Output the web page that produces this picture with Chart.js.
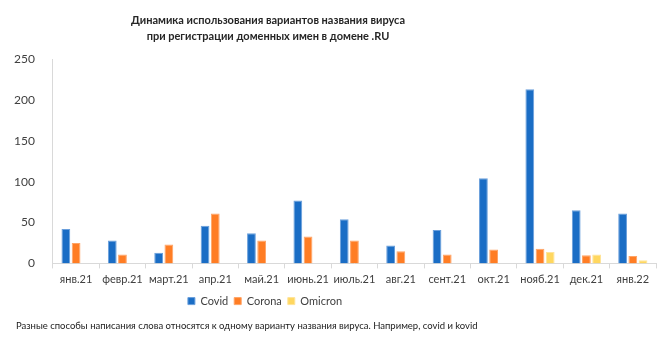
<!DOCTYPE html>
<html lang="ru">
<head>
  <meta charset="UTF-8" />
  <title>Динамика использования вариантов названия вируса</title>
  <script src="https://cdn.jsdelivr.net/npm/chart.js"></script>
  <style>
    body {
      margin: 0;
      padding: 0;
      background: #ffffff;
    }
    .wrap {
      width: 670px;
      height: 338px;
      position: relative;
    }
  </style>
</head>
<body>
  <div class="wrap">
    <canvas id="virusChart" width="670" height="338"></canvas>
  </div>

  <script>
    const months = ["янв.21", "февр.21", "март.21", "апр.21", "май.21", "июнь.21", "июль.21",
                    "авг.21", "сент.21", "окт.21", "нояб.21", "дек.21", "янв.22"];
    const covid   = [42, 28, 13, 46, 37, 77, 54, 22, 41, 104, 213, 65, 61];
    const corona  = [25, 11, 23, 61, 28, 33, 28, 15, 11, 17, 18, 10, 9];
    const omicron = [null, null, null, null, null, null, null, null, null, null, 14, 11, 4];
    const yTicks  = [0, 50, 100, 150, 200, 250];

    const fontFamily = "Lato, 'Liberation Sans', Arial, sans-serif";
    const textColor = '#404040';

    // In the Excel original the title and legend sit left of centre,
    // and the note starts a little in from the edge
    const boxShift = {
      id: 'boxShift',
      afterLayout(chart) {
        if (chart.legend) chart.legend.right -= 130;
        if (chart.titleBlock) chart.titleBlock.right -= 124;
        const sub = chart.boxes.find(b => b.options && b.options.text && b.position === 'bottom' && b !== chart.legend);
        if (sub) { sub.left += 12; sub.right += 12; }
      }
    };

    const ctx = document.getElementById('virusChart').getContext('2d');
    const chart = new Chart(ctx, {
      type: 'bar',
      data: {
        labels: months,
        datasets: [
          { label: 'Covid', data: covid, backgroundColor: '#1a6dc5', borderColor: '#6a9fdc', borderWidth: 1 },
          { label: 'Corona', data: corona, backgroundColor: '#ff7d24', borderColor: '#ffa466', borderWidth: 1 },
          { label: 'Omicron', data: omicron, backgroundColor: '#ffd75f', borderColor: '#ffe49a', borderWidth: 1 }
        ]
      },
      plugins: [boxShift],
      options: {
        responsive: false,
        animation: false,
        layout: { padding: { left: 4, right: 14, top: 5, bottom: 0 } },
        datasets: {
          bar: { categoryPercentage: 0.66, barPercentage: 0.86 }
        },
        plugins: {
          title: {
            display: true,
            text: ['Динамика использования вариантов названия вируса',
                   'при регистрации доменных имен в домене .RU'],
            color: '#262626',
            font: { family: fontFamily, size: 11, weight: 'bold', lineHeight: 1.5 },
            padding: { top: 7, bottom: 14 }
          },
          subtitle: {
            display: true,
            position: 'bottom',
            align: 'start',
            text: 'Разные способы написания слова относятся к одному варианту названия вируса. Например, covid и kovid',
            color: '#1a1a1a',
            font: { family: fontFamily, size: 9.5 },
            padding: { top: 4, bottom: 6 }
          },
          legend: {
            position: 'bottom',
            labels: {
              color: textColor,
              font: { family: fontFamily, size: 11 },
              boxWidth: 7,
              boxHeight: 7,
              padding: 6
            }
          },
          tooltip: { enabled: false }
        },
        scales: {
          x: {
            grid: {
              display: true,
              drawOnChartArea: false,
              drawTicks: true,
              tickLength: 5,
              color: '#d9d9d9',
              offset: true
            },
            border: { display: true, color: '#d9d9d9' },
            ticks: {
              color: textColor,
              font: { family: fontFamily, size: 11 },
              maxRotation: 0,
              autoSkip: false,
              padding: 4
            }
          },
          y: {
            min: 0,
            max: 250,
            afterBuildTicks: axis => { axis.ticks = yTicks.map(v => ({ value: v })); },
            grid: { display: false },
            border: { display: true, color: '#d9d9d9' },
            ticks: {
              color: textColor,
              font: { family: fontFamily, size: 12 },
              padding: 10
            }
          }
        }
      }
    });
  </script>
</body>
</html>
